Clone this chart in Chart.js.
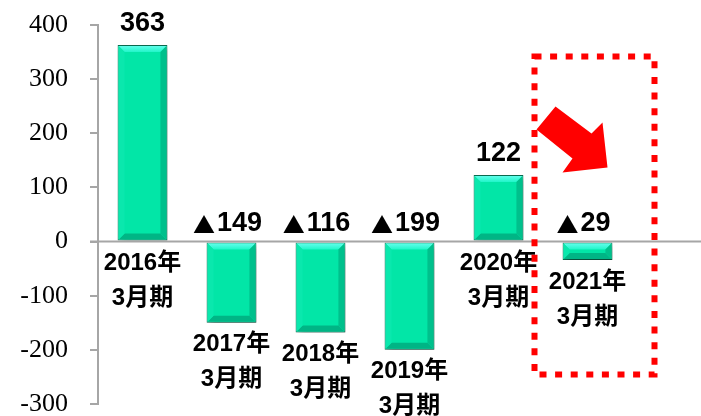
<!DOCTYPE html>
<html>
<head>
<meta charset="utf-8">
<script src="https://cdn.jsdelivr.net/npm/chart.js@4"></script>
<style>
  html, body { margin: 0; padding: 0; background: #fff; overflow: hidden; }
  canvas { display: block; }
</style>
</head>
<body>
<canvas id="c" width="701" height="416"></canvas>
<script>
// data
const years = ["2016年", "2017年", "2018年", "2019年", "2020年", "2021年"];
const periods = ["3月期", "3月期", "3月期", "3月期", "3月期", "3月期"];
const values = [363, -150, -168, -200, 123, -34];
const valueLabels = ["363", "▲149", "▲116", "▲199", "122", "▲29"];
const yTicks = [-300, -200, -100, 0, 100, 200, 300, 400];

Chart.defaults.font.family = '"Liberation Serif", "Times New Roman", serif';
Chart.defaults.font.size = 26;
Chart.defaults.color = "#000";

const labelFont = 'bold 24px "Liberation Sans", "Noto Sans CJK JP", sans-serif';
const numFont = 'bold 27px "Liberation Sans", sans-serif';
const triFont = '22px "Noto Sans CJK JP", "DejaVu Sans", sans-serif';

// soft shadow behind bars
const shadowPlugin = {
    id: "barShadow",
    beforeDatasetDraw(chart) {
        const ctx = chart.ctx;
        ctx.save();
        ctx.shadowColor = "rgba(0,0,0,0.35)";
        ctx.shadowBlur = 6;
        ctx.shadowOffsetX = 3;
        ctx.shadowOffsetY = 3;
    },
    afterDatasetDraw(chart) {
        chart.ctx.restore();
    }
};

// draw "▲123" with a big triangle, centred on x
function drawValue(ctx, text, x, y) {
    const neg = text.startsWith("▲");
    const num = neg ? text.slice(1) : text;
    ctx.font = numFont;
    const wNum = ctx.measureText(num).width;
    ctx.font = triFont;
    const wTri = neg ? ctx.measureText("▲").width : 0;
    const gap = neg ? 2 : 0;
    let left = x - (wTri + gap + wNum) / 2;
    ctx.textAlign = "left";
    if (neg) {
        ctx.fillText("▲", left, y + 1);
        left += wTri + gap;
    }
    ctx.font = numFont;
    ctx.fillText(num, left, y);
}

// bevel look on each bar, zero line, labels, red annotation
const decoPlugin = {
    id: "deco",
    afterDatasetsDraw(chart) {
        const ctx = chart.ctx;
        const meta = chart.getDatasetMeta(0);
        const y0 = chart.scales.y.getPixelForValue(0);
        const b = 7;

        meta.data.forEach(bar => {
            const l = bar.x - bar.width / 2, r = bar.x + bar.width / 2;
            const t = Math.min(bar.y, bar.base), bt = Math.max(bar.y, bar.base);
            const bb = Math.min(b, (bt - t) / 2);
            const poly = (pts, fill) => {
                ctx.beginPath();
                ctx.moveTo(pts[0][0], pts[0][1]);
                pts.slice(1).forEach(p => ctx.lineTo(p[0], p[1]));
                ctx.closePath();
                ctx.fillStyle = fill;
                ctx.fill();
            };
            ctx.save();
            const g = ctx.createLinearGradient(0, t, 0, t + bb);
            g.addColorStop(0, "#6afff0");
            g.addColorStop(1, "#20f5c8");
            poly([[l + 1, t + 1], [r - 1, t + 1], [r - bb, t + bb], [l + bb, t + bb]], g);
            poly([[l + 1, bt - 1], [r - 1, bt - 1], [r - bb, bt - bb], [l + bb, bt - bb]], "#00b585");
            poly([[l + 1, t + 1], [l + bb, t + bb], [l + bb, bt - bb], [l + 1, bt - 1]], "#0ae8ad");
            poly([[r - 1, t + 1], [r - bb, t + bb], [r - bb, bt - bb], [r - 1, bt - 1]], "#00c08c");
            ctx.restore();
        });

        // zero line across to the right edge
        ctx.save();
        ctx.strokeStyle = "#a6a6a6";
        ctx.lineWidth = 2;
        ctx.beginPath();
        ctx.moveTo(chart.chartArea.left - 8, y0);
        ctx.lineTo(chart.width, y0);
        ctx.stroke();

        // value and category labels
        ctx.fillStyle = "#000";
        ctx.textBaseline = "middle";
        meta.data.forEach((bar, i) => {
            const v = values[i];
            const vy = v >= 0 ? bar.y - 21 : y0 - 18;
            drawValue(ctx, valueLabels[i], bar.x - (v < 0 ? 4 : 0), vy);
            ctx.font = labelFont;
            ctx.textAlign = "center";
            const base = v >= 0 ? y0 : bar.y;
            ctx.fillText(years[i], bar.x, base + 22);
            ctx.fillText(periods[i], bar.x, base + 57);
        });

        // red dotted box and arrow around the last period
        const last = meta.data[meta.data.length - 1];
        const cx = last.x;
        ctx.strokeStyle = "#ff0000";
        ctx.lineWidth = 6;
        ctx.setLineDash([7, 8.6]);
        ctx.strokeRect(cx - 53, y0 - 185, 120, 318);
        ctx.setLineDash([]);
        const arrow = [[-32, -135], [4, -108], [15, -119], [20, -74], [-25, -69], [-15, -83], [-51, -112]];
        ctx.fillStyle = "#ff0000";
        ctx.beginPath();
        arrow.forEach((p, k) => k ? ctx.lineTo(cx + p[0], y0 + p[1]) : ctx.moveTo(cx + p[0], y0 + p[1]));
        ctx.closePath();
        ctx.fill();
        ctx.restore();
    }
};

new Chart(document.getElementById("c"), {
    type: "bar",
    data: {
        labels: years,
        datasets: [{
            data: values,
            backgroundColor: "#02e6a7",
            borderColor: "#0b6e52",
            borderWidth: 1,
            borderSkipped: false,
            categoryPercentage: 0.56,
            barPercentage: 1
        }]
    },
    options: {
        responsive: false,
        animation: false,
        events: [],
        layout: { padding: { top: 25, bottom: 12, left: 0, right: 69 } },
        plugins: { legend: { display: false }, tooltip: { enabled: false } },
        scales: {
            x: { display: false, offset: true },
            y: {
                min: -300,
                max: 400,
                afterFit(scale) {
                    scale.width = 98;
                    scale.paddingTop = 0;
                    scale.paddingBottom = 0;
                },
                afterBuildTicks(scale) { scale.ticks = yTicks.map(v => ({ value: v })); },
                border: { display: true, color: "#a6a6a6", width: 2 },
                grid: { drawOnChartArea: false, drawTicks: true, tickLength: 8, color: "#a6a6a6", lineWidth: 2 },
                ticks: {
                    padding: 22,
                    color: "#000",
                    font: { family: '"Liberation Serif", "Times New Roman", serif', size: 26 }
                }
            }
        }
    },
    plugins: [shadowPlugin, decoPlugin]
});
</script>
</body>
</html>
